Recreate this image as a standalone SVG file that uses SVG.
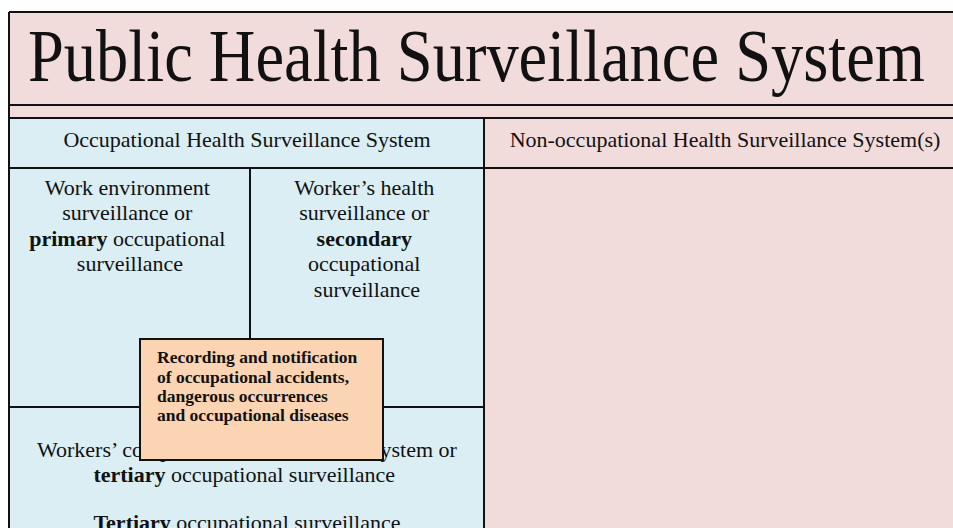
<svg xmlns="http://www.w3.org/2000/svg" width="953" height="528" viewBox="0 0 953 528">
  <style>
    .pink { fill: #F2DBDB; }
    .blue { fill: #DAEEF3; }
    .rule { stroke: #111; stroke-width: 2; fill: none; }
    .txt { font-family: "Liberation Serif", "Times New Roman", serif; fill: #111; }
    .cell { font-size: 22px; text-anchor: middle; }
    .note { font-size: 17.5px; font-weight: bold; }
    .b { font-weight: bold; }
  </style>

  <rect x="0" y="0" width="953" height="528" fill="#ffffff"/>

  <!-- public health band -->
  <g id="public-health">
    <rect class="pink" x="9" y="12" width="950" height="520"/>
    <text class="txt" x="28" y="81" font-size="75" textLength="897" lengthAdjust="spacingAndGlyphs">Public Health Surveillance System</text>
  </g>

  <!-- occupational column -->
  <g id="occupational">
    <rect class="blue" x="9" y="118" width="475" height="414"/>
    <text class="txt cell" x="247" y="147">Occupational Health Surveillance System</text>
  </g>

  <g id="primary">
    <text class="txt cell" x="130">
      <tspan x="130" y="195">Work environment</tspan>
      <tspan x="130" y="220">surveillance or</tspan>
      <tspan x="130" y="246"><tspan class="b">primary</tspan> occupational</tspan>
      <tspan x="130" y="271">surveillance</tspan>
    </text>
  </g>

  <g id="secondary">
    <text class="txt cell" x="367">
      <tspan x="367" y="195">Worker’s health</tspan>
      <tspan x="367" y="220">surveillance or</tspan>
      <tspan x="367" y="246" class="b">secondary</tspan>
      <tspan x="367" y="271">occupational</tspan>
      <tspan x="367" y="297">surveillance</tspan>
    </text>
  </g>

  <g id="tertiary">
    <text class="txt" font-size="22" x="37" y="457">Workers’ compensation insurance <tspan x="372">system or</tspan></text>
    <text class="txt cell" x="247">
      <tspan x="247" y="482"><tspan class="b">tertiary</tspan> occupational surveillance</tspan>
      <tspan x="247" y="530"><tspan class="b">Tertiary</tspan> occupational surveillance</tspan>
    </text>
  </g>

  <g id="non-occupational">
    <text class="txt cell" x="725" y="147">Non-occupational Health Surveillance System(s)</text>
  </g>

  <!-- table rules -->
  <g id="rules" class="rule">
    <path d="M9 12 H953"/>
    <path d="M9 12 V528"/>
    <path d="M9 105 H953"/>
    <path d="M9 118 H953"/>
    <path d="M9 168 H953"/>
    <path d="M484 118 V528"/>
    <path d="M250 168 V407"/>
    <path d="M9 407 H484"/>
  </g>

  <!-- recording and notification box -->
  <g id="recording">
    <rect x="140" y="339" width="243" height="121" fill="#FBD4B4" stroke="#111" stroke-width="2"/>
    <text class="txt note">
      <tspan x="157" y="363">Recording and notification</tspan>
      <tspan x="157" y="383">of occupational accidents,</tspan>
      <tspan x="157" y="402">dangerous occurrences</tspan>
      <tspan x="157" y="421">and occupational diseases</tspan>
    </text>
  </g>
</svg>
